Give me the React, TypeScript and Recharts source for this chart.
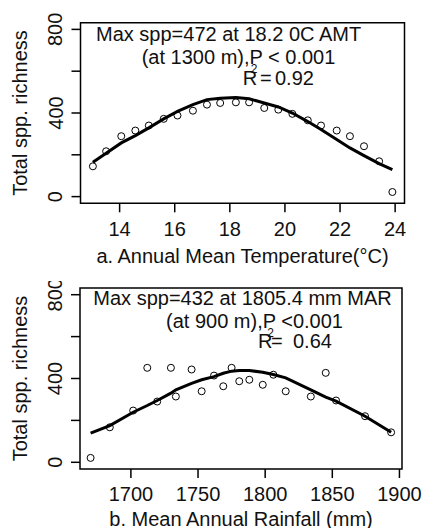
import React from 'react';
import { ComposedChart, Line, Scatter, XAxis, YAxis, ReferenceArea } from 'recharts';

const FONT = '"Liberation Sans", Arial, sans-serif';
const INK = '#111';

// a. annual mean temperature
const tempX = [13.03, 13.51, 14.06, 14.57, 15.06, 15.6, 16.1, 16.66, 17.17, 17.65, 18.22, 18.7, 19.25, 19.76, 20.27, 20.83, 21.31, 21.88, 22.36, 22.87, 23.42, 23.9];
const tempObs = [145, 217, 289, 316, 340, 372, 388, 411, 440, 448, 451, 451, 424, 416, 396, 365, 340, 316, 289, 241, 169, 22];
const tempFit = [164, 207, 257, 292, 329, 372, 408, 440, 464, 471, 474, 468, 448, 429, 400, 359, 321, 273, 233, 196, 158, 129];
const tempTicks = [14, 16, 18, 20, 22, 24];

// b. mean annual rainfall
const rainX = [1670, 1684.3, 1701.7, 1712.2, 1719.6, 1729.8, 1733.5, 1745.2, 1752.7, 1761.9, 1768.8, 1775, 1780.7, 1788.2, 1798.2, 1806.1, 1815.3, 1834, 1845.1, 1852.8, 1874.4, 1893.8];
const rainObs = [21, 167, 247, 451, 290, 451, 314, 443, 339, 414, 363, 451, 387, 394, 370, 418, 339, 314, 427, 295, 220, 143];
const rainFit = [139, 175, 239, 271, 295, 330, 346, 377, 394, 409, 425, 435, 438, 438, 430, 419, 403, 346, 311, 292, 220, 143];
const rainTicks = [1700, 1750, 1800, 1850, 1900];

const yTicks = [0, 200, 400, 600, 800];
const yLabeled = [0, 400, 800];
const yDomain = [-32, 832];

const txt = { fontSize: 20, fontFamily: FONT, fill: INK };

const Panel = ({ xs, obs, fit, xDomain, xTicks, height, margin, yAxisWidth, xAxisHeight, xTitle, xTitleDy, tickDy, notes }: any) => {
  const data = xs.map((x: number, i: number) => ({ x, obs: obs[i], fit: fit[i] }));

  const boxLabel = (props: any) => {
    const vb = props.viewBox || {};
    const { x = 0, y = 0, width = 0, height: h = 0 } = vb;
    return (
      <g>
        {notes.map((n: any, i: number) => (
          <text key={i} x={x + n.x} y={y + n.y} {...txt} fontSize={n.size || 20}>{n.text}</text>
        ))}
        <text x={x + width / 2} y={y + h + xTitleDy} textAnchor="middle" {...txt}>{xTitle}</text>
        <text
          x={x - 53.5}
          y={y + h / 2}
          textAnchor="middle"
          transform={`rotate(-90 ${x - 53.5} ${y + h / 2})`}
          {...txt}
        >
          Total spp. richness
        </text>
      </g>
    );
  };

  return (
    <ComposedChart width={424} height={height} data={data} margin={margin}>
      <XAxis
        dataKey="x"
        type="number"
        domain={xDomain}
        ticks={xTicks}
        height={xAxisHeight}
        axisLine={false}
        tickSize={9}
        tickMargin={0}
        tickLine={{ stroke: '#000', strokeWidth: 1.5 }}
        tick={(p: any) => (
          <text x={p.x} y={p.y + tickDy} textAnchor="middle" {...txt}>{p.payload.value}</text>
        )}
      />
      <YAxis
        type="number"
        domain={yDomain}
        ticks={yTicks}
        width={yAxisWidth}
        axisLine={false}
        tickSize={9}
        tickMargin={0}
        tickLine={{ stroke: '#000', strokeWidth: 1.5 }}
        tick={(p: any) =>
          yLabeled.includes(p.payload.value) ? (
            <text
              x={p.x - 9}
              y={p.y}
              textAnchor="middle"
              transform={`rotate(-90 ${p.x - 9} ${p.y})`}
              {...txt}
            >
              {p.payload.value}
            </text>
          ) : (
            <g />
          )
        }
      />
      <ReferenceArea
        x1={xDomain[0]}
        x2={xDomain[1]}
        y1={yDomain[0]}
        y2={yDomain[1]}
        fill="none"
        stroke="#000"
        strokeWidth={1.5}
        ifOverflow="visible"
        label={boxLabel}
      />
      <Scatter
        dataKey="obs"
        isAnimationActive={false}
        shape={(p: any) => <circle cx={p.cx} cy={p.cy} r={3.5} fill="none" stroke="#000" strokeWidth={1} />}
      />
      <Line dataKey="fit" type="linear" stroke="#000" strokeWidth={3} dot={false} isAnimationActive={false} />
    </ComposedChart>
  );
};

export default function App() {
  return (
    <div style={{ position: 'absolute', left: 0, top: 0, width: 424, height: 528, background: '#fff', overflow: 'hidden' }}>
      <div style={{ position: 'absolute', left: 0, top: 0 }}>
        <Panel
          xs={tempX}
          obs={tempObs}
          fit={tempFit}
          xDomain={[12.58, 24.34]}
          xTicks={tempTicks}
          height={272}
          margin={{ top: 22.7, right: 19.5, bottom: 8.7, left: 0 }}
          yAxisWidth={80.5}
          xAxisHeight={60}
          xTitle="a. Annual Mean Temperature(°C)"
          xTitleDy={60}
          tickDy={23.7}
          notes={[
            { x: 15.5, y: 18, text: 'Max spp=472 at 18.2 0C AMT' },
            { x: 61.2, y: 41.3, text: '(at 1300 m),P < 0.001' },
            { x: 162.2, y: 62.3, text: 'R' },
            { x: 170.2, y: 50.3, text: '2', size: 12 },
            { x: 179.5, y: 62.3, text: '=' },
            { x: 194.5, y: 62.3, text: '0.92' },
          ]}
        />
      </div>
      <div style={{ position: 'absolute', left: 0, top: 281 }}>
        <Panel
          xs={rainX}
          obs={rainObs}
          fit={rainFit}
          xDomain={[1662.1, 1901.9]}
          xTicks={rainTicks}
          height={247}
          margin={{ top: 7, right: 22, bottom: 9, left: 0 }}
          yAxisWidth={80}
          xAxisHeight={50}
          xTitle="b. Mean Annual Rainfall (mm)"
          xTitleDy={57}
          tickDy={22.7}
          notes={[
            { x: 13.3, y: 17, text: 'Max spp=432 at 1805.4 mm MAR' },
            { x: 86, y: 40.3, text: '(at 900 m),P <0.001' },
            { x: 178, y: 60.3, text: 'R' },
            { x: 187.3, y: 49, text: '2', size: 12 },
            { x: 191, y: 60.3, text: '=' },
            { x: 213, y: 60.3, text: '0.64' },
          ]}
        />
      </div>
    </div>
  );
}
